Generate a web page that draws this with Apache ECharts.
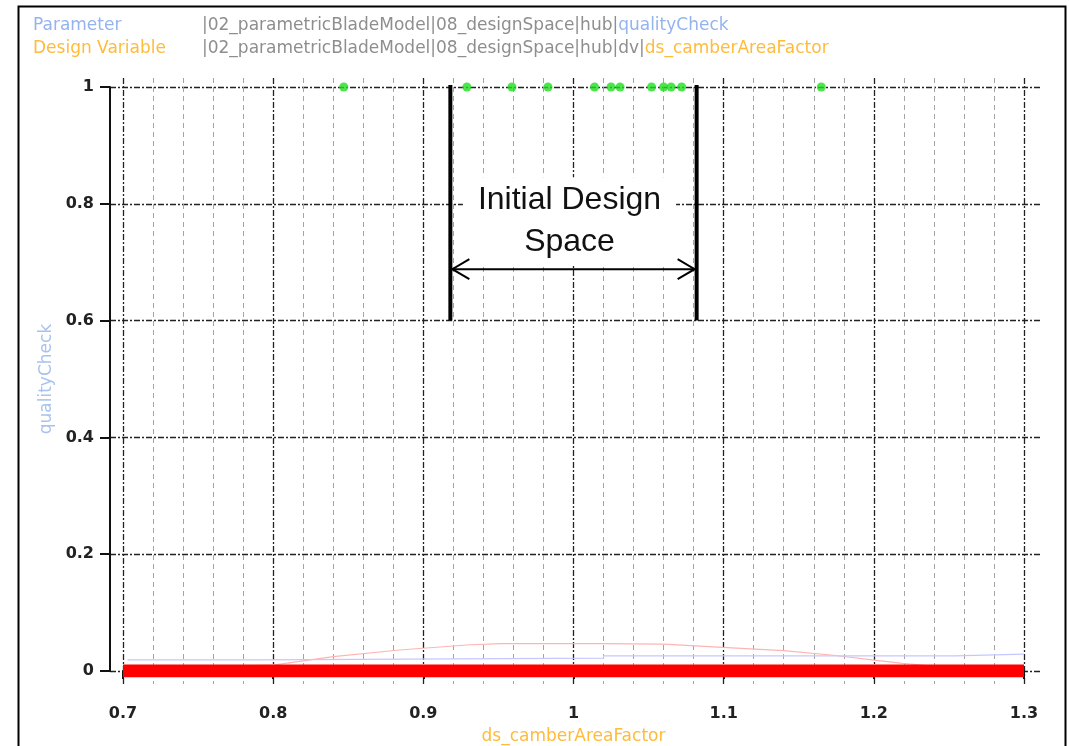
<!DOCTYPE html>
<html>
<head>
<meta charset="utf-8">
<script src="https://cdn.jsdelivr.net/npm/echarts@6/dist/echarts.min.js"></script>
<style>
html,body{margin:0;padding:0;background:#fff;}
#chart{width:1069px;height:746px;}
</style>
</head>
<body>
<div id="chart"></div>
<script>
// ---- data ----
const xRange = [0.7, 1.3];
const xTickStep = 0.1;
const yRange = [0, 1];
const yTickStep = 0.2;

// quality check passed (=1) samples
const passX = [0.847, 0.929, 0.959, 0.983, 1.014, 1.025, 1.031, 1.052, 1.060, 1.065, 1.072, 1.165];
const passY = [1, 1, 1, 1, 1, 1, 1, 1, 1, 1, 1, 1];

// quality check failed (=0) samples form a continuous band
const failX = [0.7, 1.3];
const failY = [0, 0];

// faint trend lines
const pinkX = [0.70, 0.80, 0.84, 0.884, 0.929, 0.951, 1.018, 1.060, 1.096, 1.140, 1.173, 1.199, 1.219, 1.25, 1.30];
const pinkY = [0.004, 0.010, 0.0245, 0.036, 0.0445, 0.047, 0.047, 0.046, 0.041, 0.035, 0.027, 0.019, 0.013, 0.006, 0.002];
const blueX = [0.703, 0.79, 1.02, 1.254, 1.3];
const blueY = [0.019, 0.022, 0.026, 0.029, 0.029];

// annotation: initial design space
const designSpace = [0.918, 1.082];
const designSpaceY = [0.6, 1.0];
const arrowY = 0.688;
const labelY = 0.770;
const labelText = 'Initial Design\nSpace';

const headerRows = [
  {name: 'Parameter', path: '|02_parametricBladeModel|08_designSpace|hub|', leaf: 'qualityCheck', color: '#94b4ee'},
  {name: 'Design Variable', path: '|02_parametricBladeModel|08_designSpace|hub|dv|', leaf: 'ds_camberAreaFactor', color: '#ffbb3a'}
];
const xName = 'ds_camberAreaFactor';
const yName = 'qualityCheck';

// ---- chart ----
const FONT = '"DejaVu Sans", sans-serif';
const chart = echarts.init(document.getElementById('chart'), null, {renderer: 'canvas'});

const zip = (a, b) => a.map((v, i) => [v, b[i]]);

const HF = 17;
const titles = [];
headerRows.forEach((r, i) => {
  const top = 16 + i * 23;
  titles.push({
    left: 33, top: top, padding: 0, text: r.name,
    textStyle: {fontFamily: FONT, fontSize: HF, fontWeight: 'normal', color: r.color, lineHeight: 20}
  });
  titles.push({
    left: 202, top: top, padding: 0, text: '{g|' + r.path + '}{c|' + r.leaf + '}',
    textStyle: {
      fontFamily: FONT, fontSize: HF, fontWeight: 'normal', lineHeight: 20,
      rich: {
        g: {fontFamily: FONT, fontSize: HF, fontWeight: 'normal', color: '#8e8e8e'},
        c: {fontFamily: FONT, fontSize: HF, fontWeight: 'normal', color: r.color}
      }
    }
  });
});

const majorLine = {show: true, lineStyle: {color: '#222', width: 1.3, type: [6, 2, 2, 2]}};

const option = {
  animation: false,
  backgroundColor: '#fff',
  title: titles,
  graphic: [{
    type: 'rect', left: 16, top: 4, z: 100, silent: true,
    shape: {width: 1047, height: 800},
    style: {fill: 'none', stroke: '#000', lineWidth: 2}
  }],
  grid: [
    {left: 123, right: 45, top: 87, bottom: 75, containLabel: false, outerBoundsMode: 'none'},
    {left: 110, right: 29, top: 87, bottom: 75, containLabel: false, outerBoundsMode: 'none'},
    {left: 123, right: 45, top: 78, bottom: 62, containLabel: false, outerBoundsMode: 'none'}
  ],
  xAxis: [
    {
      gridIndex: 0, type: 'value', min: xRange[0], max: xRange[1], interval: xTickStep,
      offset: 15,
      axisLine: {show: true, lineStyle: {color: '#111', width: 2}},
      axisTick: {show: true, inside: false, length: 8, lineStyle: {color: '#111', width: 2}},
      minorTick: {show: true, splitNumber: 5, length: 4, lineStyle: {color: '#111', width: 2}},
      axisLabel: {fontFamily: FONT, fontSize: 16, fontWeight: 'bold', color: '#222', margin: 20,
        formatter: v => String(+v.toFixed(2))},
      splitLine: {show: false},
      name: xName, nameLocation: 'middle', nameGap: 42,
      nameTextStyle: {fontFamily: FONT, fontSize: 17, color: '#ffbb3a'}
    },
    {gridIndex: 1, type: 'value', min: xRange[0], max: xRange[1], show: false},
    {
      gridIndex: 2, type: 'value', min: xRange[0], max: xRange[1], interval: xTickStep,
      axisLine: {show: false}, axisTick: {show: false}, axisLabel: {show: false},
      minorTick: {show: false, splitNumber: 5},
      splitLine: majorLine,
      minorSplitLine: {show: true, lineStyle: {color: '#a4a4a4', width: 1, type: [5, 4]}}
    }
  ],
  yAxis: [
    {
      gridIndex: 0, type: 'value', min: yRange[0], max: yRange[1], interval: yTickStep,
      offset: 13,
      axisLine: {show: true, lineStyle: {color: '#111', width: 2}},
      axisTick: {show: true, inside: false, length: 10, lineStyle: {color: '#111', width: 2}},
      axisLabel: {fontFamily: FONT, fontSize: 16, fontWeight: 'bold', color: '#222', margin: 16,
        formatter: v => String(+v.toFixed(2))},
      splitLine: {show: false},
      name: yName, nameLocation: 'middle', nameGap: 47, nameRotate: 90,
      nameTextStyle: {fontFamily: FONT, fontSize: 17, color: '#a9c3ee'}
    },
    {
      gridIndex: 1, type: 'value', min: yRange[0], max: yRange[1], interval: yTickStep,
      axisLine: {show: false}, axisTick: {show: false}, axisLabel: {show: false},
      splitLine: majorLine
    },
    {gridIndex: 2, type: 'value', min: yRange[0], max: yRange[1], show: false}
  ],
  series: [
    {
      type: 'line', xAxisIndex: 0, yAxisIndex: 0, data: zip(pinkX, pinkY),
      symbol: 'none', lineStyle: {color: '#ffb4b4', width: 1.2}, z: 2
    },
    {
      type: 'line', xAxisIndex: 0, yAxisIndex: 0, data: zip(blueX, blueY), step: 'end',
      symbol: 'none', lineStyle: {color: '#c4c8ff', width: 1.2}, z: 2
    },
    {
      type: 'line', xAxisIndex: 0, yAxisIndex: 0, data: zip(failX, failY),
      symbol: 'none', lineStyle: {color: '#ff0000', width: 13, cap: 'butt'}, z: 3
    },
    {
      type: 'scatter', xAxisIndex: 0, yAxisIndex: 0, data: zip(passX, passY),
      symbol: 'circle', symbolSize: 9, itemStyle: {color: '#1fdf1f'}, z: 4
    },
    {
      type: 'custom', xAxisIndex: 0, yAxisIndex: 0, z: 5, clip: false,
      data: [[designSpace[0], designSpace[1], designSpaceY[0], designSpaceY[1], arrowY, labelY]],
      renderItem: function (params, api) {
        const a0 = api.coord([api.value(0), api.value(2)]);
        const a1 = api.coord([api.value(0), api.value(3)]);
        const b0 = api.coord([api.value(1), api.value(2)]);
        const b1 = api.coord([api.value(1), api.value(3)]);
        const ar0 = api.coord([api.value(0), api.value(4)]);
        const ar1 = api.coord([api.value(1), api.value(4)]);
        const tp = api.coord([(api.value(0) + api.value(1)) / 2, api.value(5)]);
        const stroke = {stroke: '#000', lineWidth: 4, fill: 'none'};
        const thin = {stroke: '#000', lineWidth: 2, fill: 'none'};
        return {
          type: 'group',
          children: [
            {type: 'text', style: {
              text: labelText, x: tp[0] - 4, y: tp[1], align: 'center', verticalAlign: 'middle',
              font: '32px "Liberation Sans", Arial, sans-serif', lineHeight: 42, fill: '#111',
              backgroundColor: '#fff', padding: [2, 15, 2, 15]
            }},
            {type: 'line', shape: {x1: a0[0], y1: a0[1], x2: a1[0], y2: a1[1] - 2}, style: stroke},
            {type: 'line', shape: {x1: b0[0], y1: b0[1], x2: b1[0], y2: b1[1] - 2}, style: stroke},
            {type: 'line', shape: {x1: ar0[0] + 2, y1: ar0[1], x2: ar1[0] - 2, y2: ar1[1]}, style: thin},
            {type: 'polyline', shape: {points: [[ar0[0] + 19, ar0[1] - 10], [ar0[0] + 2, ar0[1]], [ar0[0] + 19, ar0[1] + 10]]}, style: thin},
            {type: 'polyline', shape: {points: [[ar1[0] - 19, ar1[1] - 10], [ar1[0] - 2, ar1[1]], [ar1[0] - 19, ar1[1] + 10]]}, style: thin}
          ]
        };
      }
    }
  ]
};
chart.setOption(option);
</script>
</body>
</html>
